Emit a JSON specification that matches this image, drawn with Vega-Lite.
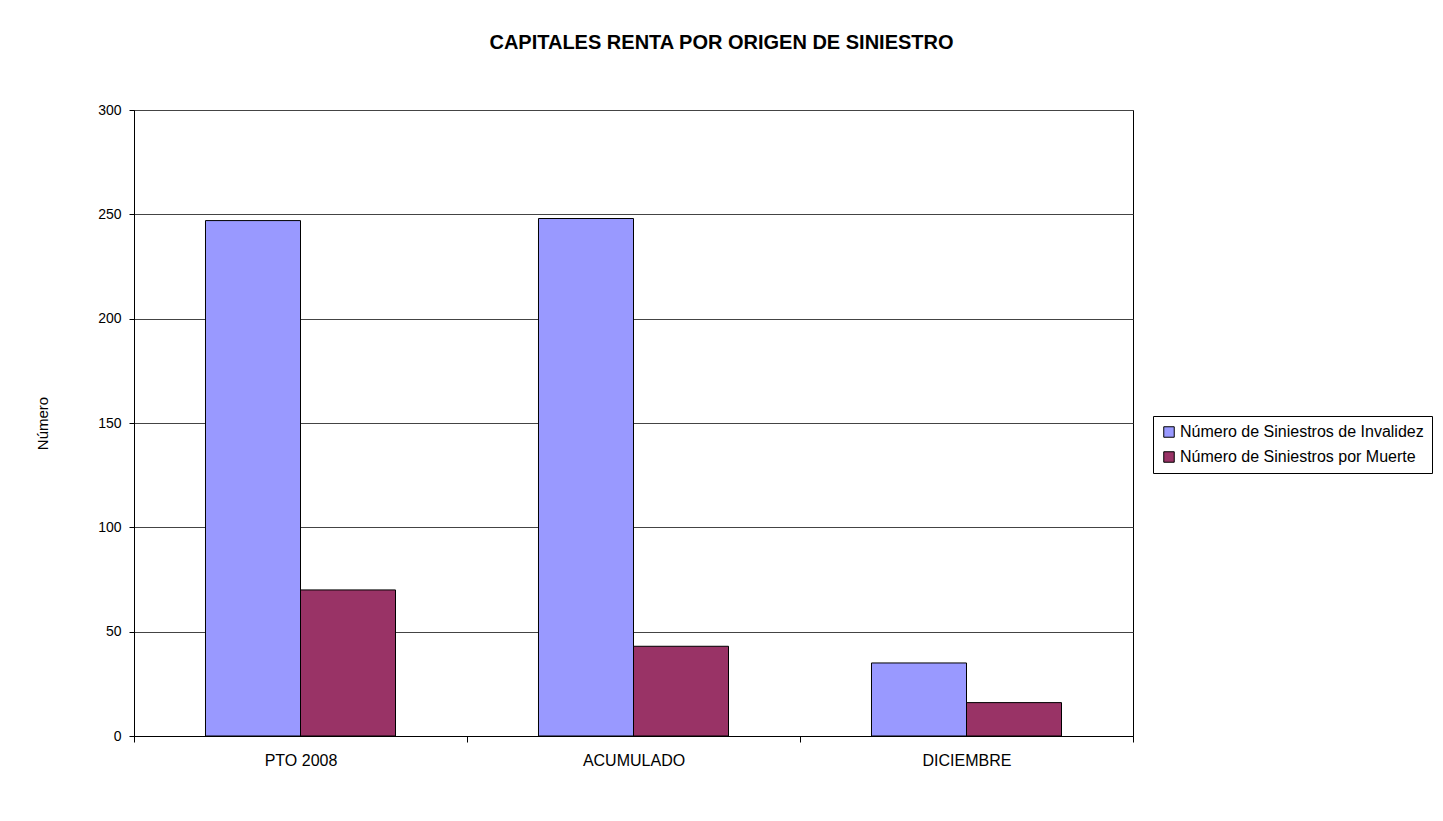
{
  "$schema": "https://vega.github.io/schema/vega-lite/v6.json",
  "width": 999,
  "height": 626,
  "autosize": {"type": "none"},
  "padding": {"left": 134, "top": 110, "right": 310, "bottom": 85},
  "background": "white",
  "title": {
    "text": "CAPITALES RENTA POR ORIGEN DE SINIESTRO",
    "font": "Liberation Sans",
    "fontSize": 20,
    "fontWeight": "bold",
    "color": "black",
    "anchor": "middle",
    "dx": 88,
    "offset": 50
  },
  "data": {
    "values": [
      {"periodo": "PTO 2008", "serie": "Número de Siniestros de Invalidez", "valor": 247},
      {"periodo": "PTO 2008", "serie": "Número de Siniestros por Muerte", "valor": 70},
      {"periodo": "ACUMULADO", "serie": "Número de Siniestros de Invalidez", "valor": 248},
      {"periodo": "ACUMULADO", "serie": "Número de Siniestros por Muerte", "valor": 43},
      {"periodo": "DICIEMBRE", "serie": "Número de Siniestros de Invalidez", "valor": 35},
      {"periodo": "DICIEMBRE", "serie": "Número de Siniestros por Muerte", "valor": 16}
    ]
  },
  "mark": {"type": "bar", "stroke": "black", "strokeWidth": 1, "opacity": 1},
  "encoding": {
    "x": {
      "field": "periodo",
      "type": "nominal",
      "sort": ["PTO 2008", "ACUMULADO", "DICIEMBRE"],
      "scale": {"paddingInner": 0, "paddingOuter": 0},
      "axis": {
        "title": null,
        "labelAngle": 0,
        "labelFont": "Liberation Sans",
        "labelFontSize": 16,
        "labelColor": "black",
        "labelPadding": 10,
        "tickBand": "extent",
        "tickSize": 6,
        "tickColor": "black",
        "domainColor": "black",
        "grid": false
      }
    },
    "xOffset": {
      "field": "serie",
      "type": "nominal",
      "scale": {"paddingInner": 0, "paddingOuter": 0.7526}
    },
    "y": {
      "field": "valor",
      "type": "quantitative",
      "scale": {"domain": [0, 300], "nice": false, "zero": true},
      "axis": {
        "title": "Número",
        "titleFont": "Liberation Sans",
        "titleFontSize": 15,
        "titleFontWeight": "normal",
        "titleColor": "black",
        "titleX": -92,
        "titleY": 313,
        "titleAngle": -90,
        "titleAlign": "center",
        "titleBaseline": "middle",
        "values": [0, 50, 100, 150, 200, 250, 300],
        "labelFont": "Liberation Sans",
        "labelFontSize": 14,
        "labelColor": "black",
        "labelPadding": 8,
        "tickSize": 5,
        "tickColor": "black",
        "domainColor": "black",
        "grid": true,
        "gridColor": "#444444",
        "gridWidth": 1
      }
    },
    "color": {
      "field": "serie",
      "type": "nominal",
      "scale": {
        "domain": ["Número de Siniestros de Invalidez", "Número de Siniestros por Muerte"],
        "range": ["#9999FF", "#993366"]
      },
      "legend": {
        "title": null,
        "orient": "none",
        "legendX": 1019,
        "legendY": 306,
        "strokeColor": "black",
        "fillColor": "white",
        "padding": 8,
        "rowPadding": 9,
        "symbolType": "square",
        "symbolSize": 110,
        "symbolStrokeColor": "black",
        "symbolStrokeWidth": 1,
        "symbolOpacity": 1,
        "labelFont": "Liberation Sans",
        "labelFontSize": 16,
        "labelColor": "black",
        "labelOffset": 3,
        "labelLimit": 400
      }
    }
  },
  "config": {
    "view": {"stroke": "black", "strokeWidth": 1},
    "axis": {"domainWidth": 1, "tickWidth": 1}
  }
}
